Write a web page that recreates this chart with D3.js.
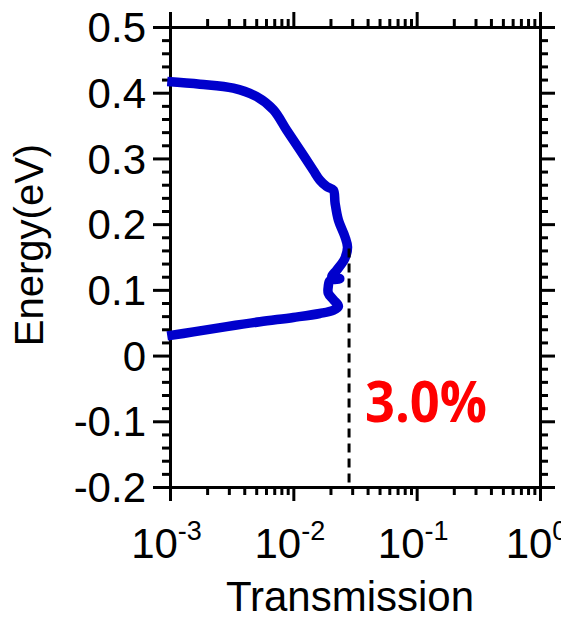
<!DOCTYPE html>
<html>
<head>
<meta charset="utf-8">
<script src="https://cdn.jsdelivr.net/npm/d3@7"></script>
<style>
  body { margin: 0; background: #fff; }
  svg { display: block; }
  .axis path, .axis line { stroke: #000; stroke-width: 3; }
  .axis text { font-family: "Liberation Sans", Arial, sans-serif; font-size: 42px; fill: #000; }
</style>
</head>
<body>
<script>
// Courbe de transmission
const transmission = [0.00095, 0.00175, 0.00326, 0.00505, 0.00689, 0.00883, 0.0113, 0.0145,
  0.0164, 0.0187, 0.0211, 0.0218, 0.0232, 0.0262, 0.0275, 0.0262, 0.0225, 0.0205, 0.0238,
  0.0198, 0.0192, 0.0192, 0.0211, 0.0232, 0.0211, 0.0164, 0.0100, 0.00537, 0.00288, 0.00155, 0.00095];
const energy = [0.417, 0.413, 0.407, 0.394, 0.374, 0.343, 0.313, 0.282,
  0.267, 0.257, 0.252, 0.232, 0.206, 0.181, 0.165, 0.148, 0.130, 0.120, 0.117,
  0.114, 0.105, 0.095, 0.085, 0.075, 0.069, 0.064, 0.058, 0.0515, 0.044, 0.036, 0.030];

// Marqueur vertical pointillé
const markerT = 0.0283;
const markerE = [0.163, -0.2];
const markerLabel = "3.0%";

const yTicks = [0.5, 0.4, 0.3, 0.2, 0.1, 0, -0.1, -0.2];
const yTickLabels = ["0.5", "0.4", "0.3", "0.2", "0.1", "0", "-0.1", "-0.2"];
const xTicks = [1e-3, 1e-2, 1e-1, 1];
const xTickExps = ["-3", "-2", "-1", "0"];

(function(d3) {
  "use strict";

  const width = 561, height = 620;
  const left = 170, right = 540, top = 27, bottom = 487;

  const x = d3.scaleLog().domain([1e-3, 1]).range([left, right]);
  const y = d3.scaleLinear().domain([-0.2, 0.5]).range([bottom, top]);

  const xMinor = [];
  [1e-3, 1e-2, 1e-1].forEach(d => { for (let k = 2; k <= 9; k++) xMinor.push(d * k); });
  const yMinor = d3.range(-20, 51, 2).map(v => v / 100).filter(v => Math.round(v * 100) % 10 !== 0);

  const svg = d3.select("body").append("svg")
    .attr("width", width)
    .attr("height", height);

  // Axes mineurs
  svg.append("g").attr("class", "axis").attr("transform", "translate(" + left + ",0)")
    .call(d3.axisLeft(y).tickValues(yMinor).tickSize(8).tickSizeOuter(0).tickFormat(""));
  svg.append("g").attr("class", "axis").attr("transform", "translate(" + right + ",0)")
    .call(d3.axisRight(y).tickValues(yMinor).tickSize(8).tickSizeOuter(0).tickFormat(""));
  svg.append("g").attr("class", "axis").attr("transform", "translate(0," + top + ")")
    .call(d3.axisTop(x).tickValues(xMinor).tickSize(8).tickSizeOuter(0).tickFormat(""));
  svg.append("g").attr("class", "axis").attr("transform", "translate(0," + bottom + ")")
    .call(d3.axisBottom(x).tickValues(xMinor).tickSize(8).tickSizeOuter(0).tickFormat(""));

  // Axes majeurs
  const yAxis = svg.append("g").attr("class", "axis").attr("transform", "translate(" + left + ",0)")
    .call(d3.axisLeft(y).tickValues(yTicks).tickSize(17).tickSizeOuter(0)
      .tickPadding(7).tickFormat((d, i) => yTickLabels[i]));
  yAxis.selectAll("text").attr("dy", "0.35em");

  svg.append("g").attr("class", "axis").attr("transform", "translate(" + right + ",0)")
    .call(d3.axisRight(y).tickValues(yTicks).tickSize(15).tickSizeOuter(0).tickFormat(""));
  svg.append("g").attr("class", "axis").attr("transform", "translate(0," + top + ")")
    .call(d3.axisTop(x).tickValues(xTicks).tickSize(15).tickSizeOuter(0).tickFormat(""));

  const xAxis = svg.append("g").attr("class", "axis").attr("transform", "translate(0," + bottom + ")")
    .call(d3.axisBottom(x).tickValues(xTicks).tickSize(14).tickSizeOuter(0).tickFormat(""));

  // Étiquettes 10^n avec exposant
  xAxis.selectAll(".tick").each(function(d, i) {
    const t = d3.select(this).append("text")
      .attr("x", -4)
      .attr("y", 71)
      .attr("dy", 0)
      .attr("text-anchor", "middle");
    t.append("tspan").text("10");
    t.append("tspan").attr("font-size", "27px").attr("dy", -18).text(xTickExps[i]);
  });

  // Courbe
  const line = d3.line()
    .curve(d3.curveCatmullRom.alpha(0.5))
    .x((d, i) => x(transmission[i]))
    .y((d, i) => y(energy[i]));

  svg.append("path")
    .datum(transmission)
    .attr("d", line)
    .attr("fill", "none")
    .attr("stroke", "#0000cc")
    .attr("stroke-width", 9.5)
    .attr("stroke-linejoin", "round");

  // Ligne pointillée
  svg.append("line")
    .attr("x1", x(markerT)).attr("x2", x(markerT))
    .attr("y1", y(markerE[0])).attr("y2", y(markerE[1]))
    .attr("stroke", "#000")
    .attr("stroke-width", 3)
    .attr("stroke-dasharray", "9,6");

  svg.append("text")
    .attr("x", 365)
    .attr("y", 422)
    .attr("font-family", "'Open Sans', sans-serif")
    .attr("font-weight", "bold")
    .attr("font-size", "58px")
    .attr("fill", "#ff0000")
    .attr("textLength", 122)
    .attr("lengthAdjust", "spacingAndGlyphs")
    .text(markerLabel);

  // Titres des axes
  svg.append("text")
    .attr("transform", "translate(43,245) rotate(-90)")
    .attr("text-anchor", "middle")
    .attr("font-family", "'Liberation Sans', Arial, sans-serif")
    .attr("font-size", "40px")
    .text("Energy(eV)");

  svg.append("text")
    .attr("x", 350)
    .attr("y", 611)
    .attr("text-anchor", "middle")
    .attr("font-family", "'Liberation Sans', Arial, sans-serif")
    .attr("font-size", "42px")
    .text("Transmission");
})(d3);
</script>
</body>
</html>
